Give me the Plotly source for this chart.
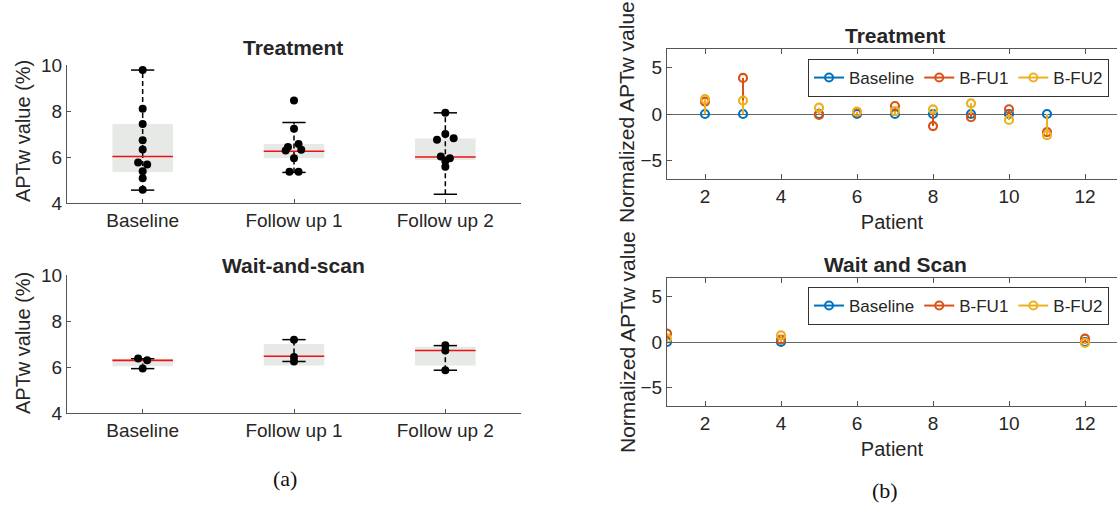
import plotly.graph_objects as go

# ---------------- data ----------------
categories = ["Baseline", "Follow up 1", "Follow up 2"]

# Treatment (left, top) scatter points per category
tr_points = [
    [9.78, 8.10, 7.44, 6.73, 6.33, 5.76, 5.67, 5.38, 5.08, 4.58],
    [8.46, 7.23, 6.56, 6.44, 6.31, 6.28, 5.95, 5.36, 5.36],
    [7.92, 7.00, 6.81, 6.75, 6.02, 5.95, 5.83, 5.58],
]
tr_jitter = [
    [0, 0, 0, 0, 0, -0.03, 0.03, 0, 0, 0],
    [0, 0, 0.03, -0.04, 0.048, -0.055, 0, -0.03, 0.03],
    [0, 0, 0.055, -0.055, -0.03, 0.03, 0, 0],
]
tr_q1 = [5.35, 5.95, 5.87]
tr_med = [6.02, 6.25, 6.00]
tr_q3 = [7.44, 6.56, 6.80]
tr_lo = [4.56, 5.33, 4.38]
tr_hi = [9.78, 7.50, 7.92]

# Wait-and-scan (left, bottom)
ws_points = [
    [6.37, 6.29, 5.93],
    [7.19, 6.43, 6.24],
    [6.95, 6.72, 5.86],
]
ws_jitter = [
    [-0.03, 0.03, 0],
    [0, 0, 0],
    [0, 0, 0],
]
ws_q1 = [6.03, 6.06, 6.07]
ws_med = [6.29, 6.47, 6.72]
ws_q3 = [6.36, 7.00, 6.88]
ws_lo = [5.93, 6.24, 5.86]
ws_hi = [6.36, 7.19, 6.93]

# Normalized values (right)
series_names = ["Baseline", "B-FU1", "B-FU2"]
tr_patients = [2, 3, 5, 6, 7, 8, 9, 10, 11]
tr_base = [0, 0, 0, 0, 0, 0, 0, 0, 0]
tr_fu1 = [1.34, 3.88, -0.10, 0.18, 0.86, -1.30, -0.35, 0.51, -1.95]
tr_fu2 = [1.60, 1.45, 0.68, 0.25, 0.30, 0.50, 1.15, -0.64, -2.28]

wsr_patients = [1, 4, 12]
wsr_base = [0, 0, 0]
wsr_fu1 = [0.92, 0.26, 0.37]
wsr_fu2 = [0.37, 0.73, -0.10]

# ---------------- style ----------------
FONT = "Liberation Sans"
BOXFILL = "#e6e9e6"
COLORS = ["#0072BD", "#D95319", "#EDB120"]
AXCOL = "#555555"
TXT = "#262626"

fig = go.Figure()


def add_boxes(xa, ya, pts, jit, q1, med, q3, lo, hi):
    for i in range(len(categories)):
        c = i + 1
        hw = 0.2
        cw = 0.077
        fig.add_trace(go.Scatter(
            x=[c - hw, c + hw, c + hw, c - hw, c - hw],
            y=[q1[i], q1[i], q3[i], q3[i], q1[i]],
            fill="toself", fillcolor=BOXFILL, mode="lines",
            line=dict(width=0, color=BOXFILL), showlegend=False,
            hoverinfo="skip", xaxis=xa, yaxis=ya))
        fig.add_trace(go.Scatter(
            x=[c, c], y=[lo[i], hi[i]], mode="lines",
            line=dict(color="black", width=1.5, dash="5px,3px"),
            showlegend=False, hoverinfo="skip", xaxis=xa, yaxis=ya))
        fig.add_trace(go.Scatter(
            x=[c - cw, c + cw, None, c - cw, c + cw],
            y=[hi[i], hi[i], None, lo[i], lo[i]], mode="lines",
            line=dict(color="black", width=1.5),
            showlegend=False, hoverinfo="skip", xaxis=xa, yaxis=ya))
        fig.add_trace(go.Scatter(
            x=[c - hw, c + hw], y=[med[i], med[i]], mode="lines",
            line=dict(color="#ee1111", width=1.6),
            showlegend=False, hoverinfo="skip", xaxis=xa, yaxis=ya))
        fig.add_trace(go.Scatter(
            x=[c + j for j in jit[i]], y=pts[i], mode="markers",
            marker=dict(color="black", size=8),
            showlegend=False, xaxis=xa, yaxis=ya))


add_boxes("x", "y", tr_points, tr_jitter, tr_q1, tr_med, tr_q3, tr_lo, tr_hi)
add_boxes("x2", "y2", ws_points, ws_jitter, ws_q1, ws_med, ws_q3, ws_lo, ws_hi)


def add_stems(xa, ya, patients, series, legend):
    for k, vals in enumerate(series):
        sx, sy = [], []
        for p, v in zip(patients, vals):
            sx += [p, p, None]
            sy += [0, v, None]
        fig.add_trace(go.Scatter(
            x=sx, y=sy, mode="lines", line=dict(color=COLORS[k], width=2),
            showlegend=False, hoverinfo="skip", xaxis=xa, yaxis=ya))
        fig.add_trace(go.Scatter(
            x=patients, y=vals, mode="markers",
            marker=dict(symbol="circle-open", size=8, color=COLORS[k],
                        line=dict(width=2.2, color=COLORS[k])),
            showlegend=False, xaxis=xa, yaxis=ya))
    for k in range(len(series)):
        fig.add_trace(go.Scatter(
            x=[None], y=[None], mode="lines+markers", name=series_names[k],
            line=dict(color=COLORS[k], width=2),
            marker=dict(symbol="circle-open", size=8, color=COLORS[k],
                        line=dict(width=2, color=COLORS[k])),
            legend=legend, xaxis=xa, yaxis=ya))


add_stems("x3", "y3", tr_patients, [tr_base, tr_fu1, tr_fu2], "legend")
add_stems("x4", "y4", wsr_patients, [wsr_base, wsr_fu1, wsr_fu2], "legend2")

W, H = 1117, 505


def xd(a, b):
    return [a / W, b / W]


def yd(top, bottom):
    return [1 - bottom / H, 1 - top / H]


left_x = dict(range=[0.5, 3.5], tickvals=[1, 2, 3], ticktext=categories,
              showline=True, linecolor=AXCOL, linewidth=1, mirror=False,
              ticks="inside", ticklen=4, tickcolor=AXCOL, showgrid=False,
              zeroline=False, automargin=False,
              tickfont=dict(size=19, color=TXT, family=FONT))
left_y = dict(range=[4, 10], tickvals=[4, 6, 8, 10], showline=True,
              linecolor=AXCOL, linewidth=1, mirror=False, ticks="inside",
              ticklen=4, tickcolor=AXCOL, showgrid=False, zeroline=False,
              automargin=False, tickfont=dict(size=19, color=TXT, family=FONT))
right_x = dict(range=[1, 1 + (W - 667) / 38.0], tickvals=[2, 4, 6, 8, 10, 12],
               showline=True, linecolor=AXCOL, linewidth=1, mirror="ticks",
               ticks="inside", ticklen=5, tickcolor=AXCOL, showgrid=False,
               zeroline=False, automargin=False,
               tickfont=dict(size=19, color=TXT, family=FONT),
               title=dict(text="Patient", font=dict(size=20, color=TXT, family=FONT),
                          standoff=9))
right_y = dict(range=[-7, 7], tickvals=[-5, 0, 5], showline=True,
               linecolor=AXCOL, linewidth=1, mirror=False, ticks="inside",
               ticklen=5, tickcolor=AXCOL, showgrid=False, zeroline=True,
               zerolinecolor="#666666", zerolinewidth=1, automargin=False,
               tickfont=dict(size=19, color=TXT, family=FONT))

fig.update_layout(
    width=W, height=H,
    margin=dict(l=0, r=0, t=0, b=0, pad=0, autoexpand=False),
    paper_bgcolor="white", plot_bgcolor="white",
    font=dict(family=FONT, color=TXT),
    xaxis=dict(left_x, domain=xd(67, 521), anchor="y"),
    yaxis=dict(left_y, domain=yd(65, 203), anchor="x"),
    xaxis2=dict(left_x, domain=xd(67, 521), anchor="y2"),
    yaxis2=dict(left_y, domain=yd(275, 413), anchor="x2"),
    xaxis3=dict(right_x, domain=xd(667, W), anchor="y3"),
    yaxis3=dict(right_y, domain=yd(49, 179), anchor="x3"),
    xaxis4=dict(right_x, domain=xd(667, W), anchor="y4"),
    yaxis4=dict(right_y, domain=yd(278, 406), anchor="x4"),
    legend=dict(orientation="h", x=808 / W, y=1 - 59 / H, xanchor="left",
                yanchor="top", bgcolor="white", bordercolor="#333333",
                borderwidth=1, font=dict(size=17, color=TXT, family=FONT),
                itemwidth=30, tracegroupgap=0),
    legend2=dict(orientation="h", x=808 / W, y=1 - 287 / H, xanchor="left",
                 yanchor="top", bgcolor="white", bordercolor="#333333",
                 borderwidth=1, font=dict(size=17, color=TXT, family=FONT),
                 itemwidth=30, tracegroupgap=0),
)

ann = [
    dict(text="<b>Treatment</b>", x=293 / W, y=1 - 48 / H, size=21),
    dict(text="<b>Wait-and-scan</b>", x=293 / W, y=1 - 265 / H, size=21),
    dict(text="<b>Treatment</b>", x=895 / W, y=1 - 35 / H, size=21),
    dict(text="<b>Wait and Scan</b>", x=895 / W, y=1 - 264 / H, size=21),
]
for a in ann:
    fig.add_annotation(text=a["text"], x=a["x"], y=a["y"], xref="paper",
                       yref="paper", showarrow=False, xanchor="center",
                       yanchor="middle", font=dict(size=a["size"], color=TXT, family=FONT))

ylabels = [
    ("APTw value (%)", 23, 131, 20),
    ("APTw value (%)", 23, 343, 20),
    ("Normalized APTw value", 627, 112, 21),
    ("Normalized APTw value", 627, 342, 21),
]
for t, x, y, s in ylabels:
    fig.add_annotation(text=t, x=x / W, y=1 - y / H, xref="paper", yref="paper",
                       showarrow=False, textangle=-90, xanchor="center",
                       yanchor="middle", font=dict(size=s, color=TXT, family=FONT))

for t, x, y in [("(a)", 285, 478), ("(b)", 885, 490)]:
    fig.add_annotation(text=t, x=x / W, y=1 - y / H, xref="paper", yref="paper",
                       showarrow=False, xanchor="center", yanchor="middle",
                       font=dict(size=22, color="#111111", family="Liberation Serif"))

fig.write_html(
    "out.html",
    config={"displayModeBar": False},
    post_script="document.body.style.margin='0';document.body.style.overflow='hidden';",
)
